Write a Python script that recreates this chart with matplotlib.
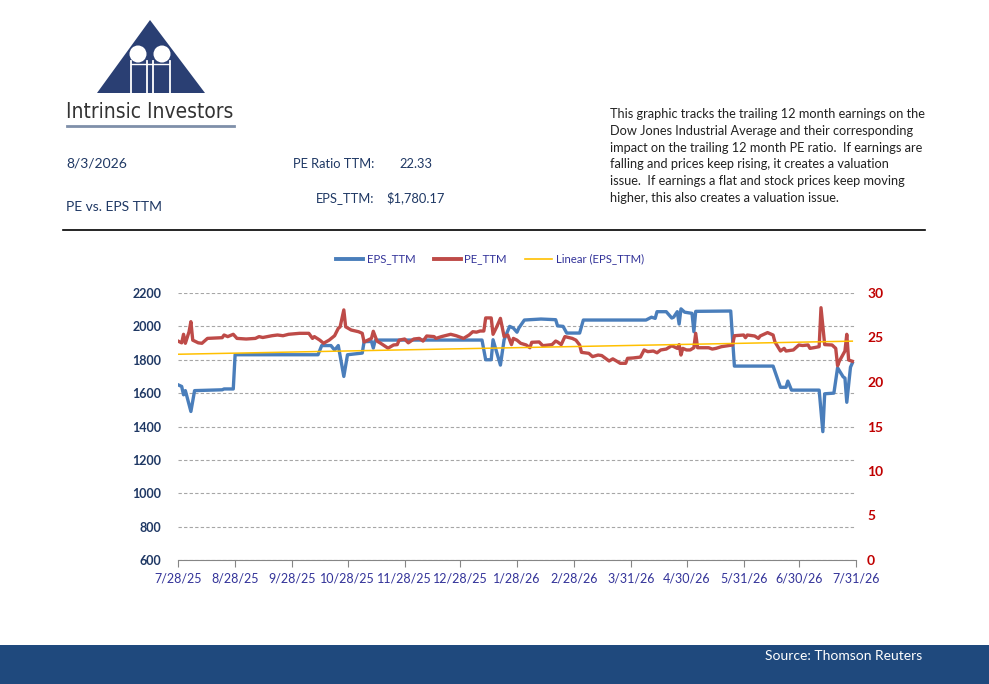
import numpy as np
import matplotlib
matplotlib.use("Agg")
from matplotlib import pyplot as plt
from matplotlib.patches import Polygon, Circle, Rectangle
from matplotlib.lines import Line2D

# data: days after 7/28/2025
base = np.datetime64('2025-07-28')

eps_days = [0, 2, 3, 4, 7, 9, 24, 25, 30, 31, 76, 78, 83, 85, 87, 90, 92, 100, 101, 105,
            106, 107, 109, 165, 167, 170, 171, 175, 177, 180, 182, 184, 185, 188, 197, 205,
            206, 209, 211, 218, 220, 254, 257, 259, 260, 265, 268, 269, 271, 272, 273, 275,
            279, 280, 281, 300, 302, 323, 327, 330, 331, 333, 348, 350, 351, 356, 358, 361,
            362, 363, 365, 366]
eps_vals = [1650, 1640, 1590, 1615, 1490, 1615, 1620, 1625, 1625, 1830, 1830, 1885, 1885, 1858,
            1885, 1700, 1830, 1840, 1908, 1910, 1870, 1915, 1918, 1918, 1800, 1800, 1920, 1768,
            1920, 2000, 1990, 1965, 1990, 2038, 2044, 2040, 2003, 2000, 1960, 1960, 2038, 2038,
            2055, 2048, 2088, 2088, 2050, 2055, 2088, 2014, 2105, 2085, 2078, 1968, 2090, 2092,
            1762, 1762, 1635, 1635, 1672, 1618, 1618, 1369, 1596, 1600, 1752, 1698, 1690, 1545,
            1755, 1780]

pe_days = [0, 2, 3, 4, 6, 7, 8, 11, 13, 16, 24, 25, 27, 30, 32, 37, 42, 44, 46, 51, 54, 57, 60,
           66, 71, 73, 74, 77, 79, 82, 85, 87, 88, 90, 91, 94, 98, 100, 101, 105, 106, 108, 110,
           114, 117, 119, 120, 123, 125, 128, 131, 133, 135, 139, 140, 143, 145, 148, 151, 155,
           158, 160, 162, 164, 166, 167, 170, 171, 173, 175, 177, 179, 181, 182, 184, 186, 189,
           191, 192, 196, 198, 203, 205, 206, 208, 210, 214, 216, 218, 219, 223, 225, 228, 230,
           232, 234, 236, 238, 240, 243, 244, 247, 251, 253, 255, 258, 260, 262, 265, 268, 271,
           272, 273, 274, 276, 278, 280, 281, 282, 288, 290, 292, 295, 301, 302, 307, 308, 309,
           313, 315, 316, 320, 323, 324, 327, 329, 330, 334, 337, 339, 342, 343, 345, 348, 349,
           351, 355, 357, 358, 359, 362, 363, 364, 366]
pe_vals = [24.6, 24.4, 25.36, 24.35, 25.65, 26.78, 24.7, 24.4, 24.35, 24.9, 24.98, 25.28, 25.1,
           25.36, 24.9, 24.83, 24.9, 25.1, 25.0, 25.2, 25.28, 25.2, 25.36, 25.47, 25.47, 24.9,
           25.1, 24.7, 24.35, 24.7, 25.2, 26.03, 26.2, 28.1, 26.2, 25.84, 25.65, 25.47, 24.5,
           24.9, 25.7, 24.6, 24.35, 23.8, 24.16, 24.2, 24.7, 24.83, 24.4, 24.83, 24.9, 24.6,
           25.17, 25.1, 24.9, 25.1, 25.2, 25.36, 25.2, 24.9, 25.28, 25.65, 25.6, 25.73, 25.73,
           27.2, 27.2, 25.36, 26.2, 27.15, 25.1, 25.28, 24.2, 24.9, 24.7, 24.35, 24.16, 23.85,
           24.46, 24.5, 24.08, 24.2, 24.6, 24.5, 24.2, 25.1, 24.9, 24.7, 24.16, 23.33, 23.22,
           22.85, 23.03, 22.97, 22.66, 22.36, 22.6, 22.36, 22.1, 22.1, 22.66, 22.7, 22.8, 23.6,
           23.41, 23.48, 23.28, 23.6, 23.7, 24.08, 23.78, 24.2, 23.03, 23.78, 23.6, 23.6, 23.85,
           25.47, 23.85, 23.85, 23.7, 23.78, 23.97, 24.16, 25.2, 25.28, 24.98, 25.28, 25.17,
           24.9, 25.17, 25.55, 25.28, 24.5, 23.48, 23.78, 23.48, 23.6, 24.16, 24.1, 24.16,
           23.78, 23.85, 23.97, 28.35, 24.2, 24.16, 23.78, 21.83, 22.36, 23.48, 25.36, 22.47,
           22.33]

tick_dates = ['2025-07-28', '2025-08-28', '2025-09-28', '2025-10-28', '2025-11-28',
              '2025-12-28', '2026-01-28', '2026-02-28', '2026-03-31', '2026-04-30',
              '2026-05-31', '2026-06-30', '2026-07-31']
tick_labels = ['7/28/25', '8/28/25', '9/28/25', '10/28/25', '11/28/25', '12/28/25', '1/28/26',
               '2/28/26', '3/31/26', '4/30/26', '5/31/26', '6/30/26', '7/31/26']

notes = ["This graphic tracks the trailing 12 month earnings on the",
         "Dow Jones Industrial Average and their corresponding",
         "impact on the trailing 12 month PE ratio.  If earnings are",
         "falling and prices keep rising, it creates a valuation",
         "issue.  If earnings a flat and stock prices keep moving",
         "higher, this also creates a valuation issue."]

W, H = 989, 684
NAVY = '#1F3864'
BLUE = '#4A7EBB'
RED = '#BE4B48'
GOLD = '#FFC000'
PURP = '#333399'
FONT = ['Lato', 'DejaVu Sans']

plt.rcParams['font.family'] = FONT
fig = plt.figure(figsize=(W / 100, H / 100), dpi=100)
fig.patch.set_facecolor('white')

# page canvas in pixel coordinates
pg = fig.add_axes([0, 0, 1, 1])
pg.set_xlim(0, W)
pg.set_ylim(H, 0)
pg.set_axis_off()

# logo
pg.add_patch(Polygon([(97, 93), (150, 20), (205, 93)], closed=True, color='#2A3F73', lw=0))
for cx in (138, 162):
    pg.add_patch(Circle((cx, 54), 8.5, color='white', lw=0))
for lx in (130.5, 147, 153, 169.5):
    pg.plot([lx, lx], [61, 93], color='white', lw=1.3)
pg.plot([131, 169], [64, 64], color='white', lw=1.0)
pg.text(150, 112, "Intrinsic Investors", ha='center', va='center', fontsize=15,
        color='#333333', family='DejaVu Sans', fontstretch='condensed')
pg.plot([67, 234], [126, 126], color='#7F8FA9', lw=2)

# header
pg.text(66, 164, "8/3/2026", ha='left', va='center', fontsize=10, color=NAVY)
pg.text(66, 207, "PE vs. EPS TTM", ha='left', va='center', fontsize=10, color=NAVY)
pg.text(374, 164, "PE Ratio TTM:", ha='right', va='center', fontsize=9.3, color=NAVY)
pg.text(399, 164, "22.33", ha='left', va='center', fontsize=9.3, color=NAVY)
pg.text(374, 198, "EPS_TTM:", ha='right', va='center', fontsize=9.3, color=NAVY)
pg.text(386, 198, "$1,780.17", ha='left', va='center', fontsize=9.3, color=NAVY)
for i, line in enumerate(notes):
    pg.text(610, 114 + i * 16.8, line, ha='left', va='center', fontsize=9.15, color='#222222')
pg.plot([63, 925], [230, 230], color='black', lw=1.2)

# footer
pg.add_patch(Rectangle((0, 645), W, H - 645, color='#1F497D', lw=0))
pg.text(922, 656, "Source: Thomson Reuters", ha='right', va='center', fontsize=10, color='white')

# chart
x_eps = base + np.array(eps_days).astype('timedelta64[D]')
x_pe = base + np.array(pe_days).astype('timedelta64[D]')
xt = np.array(tick_dates, dtype='datetime64[D]')

ax = fig.add_axes([178 / W, 1 - 560 / H, (856 - 178) / W, (560 - 293) / H])
ax.patch.set_alpha(0)
ax.plot(x_eps, eps_vals, color=BLUE, lw=2.4, solid_joinstyle='round')
ax.set_ylim(600, 2200)
ax.set_yticks(np.arange(600, 2201, 200))
ax.set_xlim(xt[0], xt[-1])
ax.set_xticks(xt)
ax.set_xticklabels(tick_labels)
ax.grid(axis='y', color='#A6A6A6', ls=(0, (3, 2)), lw=0.8)
ax.set_axisbelow(True)
for s in ('top', 'left', 'right'):
    ax.spines[s].set_visible(False)
ax.spines['bottom'].set_color('#868686')
ax.tick_params(axis='x', colors='#868686', labelcolor=PURP, labelsize=9, length=5, pad=4)
ax.tick_params(axis='y', length=0, labelcolor=NAVY, labelsize=9, pad=12)
for t in ax.get_yticklabels():
    t.set_fontweight('bold')

ax2 = ax.twinx()
ax2.plot(x_pe, pe_vals, color=RED, lw=2.4, solid_joinstyle='round')
ax2.set_ylim(0, 30)
ax2.set_yticks(np.arange(0, 31, 5))
for s in ax2.spines.values():
    s.set_visible(False)
ax2.tick_params(axis='y', length=0, labelcolor='#C00000', labelsize=10, pad=8)
for t in ax2.get_yticklabels():
    t.set_fontweight('bold')

# linear trend of EPS over daily grid
days_grid = np.arange(eps_days[0], eps_days[-1] + 1)
eps_grid = np.interp(days_grid, eps_days, eps_vals)
coef = np.polyfit(days_grid, eps_grid, 1)
ax3 = ax.twinx()
ax3.set_ylim(ax.get_ylim())
ax3.set_axis_off()
ax3.plot(x_eps[[0, -1]], np.polyval(coef, np.array(eps_days)[[0, -1]]), color=GOLD, lw=1.1)

handles = [Line2D([], [], color=BLUE, lw=2.8), Line2D([], [], color=RED, lw=2.8),
           Line2D([], [], color=GOLD, lw=1.2)]
fig.legend(handles, ['EPS_TTM', 'PE_TTM', 'Linear (EPS_TTM)'], loc='center',
           bbox_to_anchor=(490 / W, 1 - 259 / H), ncol=3, frameon=False, fontsize=8.2,
           labelcolor=PURP, handlelength=2.4, handletextpad=0.3, columnspacing=1.6)

fig.savefig('out.png', dpi=100, facecolor='white')
